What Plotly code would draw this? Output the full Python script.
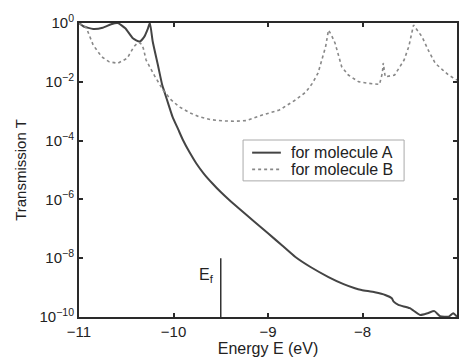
import plotly.graph_objects as go

# Molecule A (solid) : energy (eV) and log10 transmission
energy_a = [-11.0, -10.95, -10.85, -10.75, -10.66, -10.59, -10.51, -10.43, -10.36, -10.31, -10.27, -10.25,
            -10.22, -10.165, -10.12, -10.095, -10.05, -10.01, -9.95, -9.90, -9.83, -9.76, -9.68, -9.59,
            -9.50, -9.41, -9.31, -9.15, -9.0, -8.85, -8.71, -8.55, -8.36, -8.2, -8.08, -8.01, -7.87,
            -7.76, -7.69, -7.67, -7.62, -7.50, -7.39, -7.31, -7.24, -7.18, -7.09, -7.04, -7.0]
logT_a = [0.0, -0.12, -0.2, -0.16, -0.04, 0.0, -0.18, -0.52, -0.63, -0.47, -0.18, 0.0,
          -0.63, -1.43, -2.1, -2.35, -2.8, -3.19, -3.62, -3.98, -4.4, -4.77, -5.12, -5.45,
          -5.75, -6.02, -6.30, -6.74, -7.15, -7.57, -7.96, -8.3, -8.64, -8.88, -9.02, -9.08, -9.16,
          -9.25, -9.36, -9.48, -9.59, -9.7, -9.93, -9.87, -9.8, -9.97, -9.99, -9.87, -9.99]

# Molecule B (dotted)
energy_b = [-11.0, -10.95, -10.92, -10.85, -10.76, -10.68, -10.59, -10.49, -10.42, -10.38, -10.35, -10.32,
            -10.29, -10.2, -10.11, -10.03, -9.94, -9.83, -9.73, -9.6, -9.48, -9.35, -9.23, -9.06,
            -8.88, -8.71, -8.6, -8.53, -8.47, -8.43, -8.39, -8.36, -8.33, -8.29, -8.22, -8.15, -8.04,
            -7.94, -7.82, -7.79, -7.78, -7.76, -7.72, -7.66, -7.56, -7.51, -7.46, -7.42, -7.37, -7.3,
            -7.23, -7.15, -7.09, -7.0]
logT_b = [-0.02, -0.08, -0.18, -0.75, -1.15, -1.32, -1.37, -1.2, -0.81, -0.68, -0.68, -0.85,
          -1.26, -1.8, -2.28, -2.6, -2.85, -3.05, -3.19, -3.29, -3.33, -3.34, -3.32, -3.13,
          -2.96, -2.62, -2.35, -2.05, -1.7, -1.26, -0.8, -0.24, -0.4, -0.69, -1.49, -1.77, -2.0,
          -2.05, -2.09, -1.7, -1.36, -1.83, -1.8, -1.77, -1.26, -0.8, -0.07, -0.25, -0.47, -0.95,
          -1.37, -1.6, -1.77, -1.94]

# Fermi level marker
fermi_energy = -9.5
fermi_logT = [-10, -8]

series_names = ["for molecule A", "for molecule B"]
series_colors = ["#444444", "#888888"]
series_dash = ["solid", "dot"]
series_width = [2, 1.6]

y_tickvals = [0, -2, -4, -6, -8, -10]
y_ticktext = ["10<sup>0</sup>", "10<sup>−2</sup>", "10<sup>−4</sup>", "10<sup>−6</sup>",
              "10<sup>−8</sup>", "10<sup>−10</sup>"]
x_tickvals = [-11, -10, -9, -8, -7]
x_ticktext = ["−11", "−10", "−9", "−8", "−7"]

T_a = [10 ** v for v in logT_a]
T_b = [10 ** v for v in logT_b]
T_f = [10 ** v for v in fermi_logT]

FONT = "Liberation Sans, Arial, Helvetica, sans-serif"
AX = "#2a2a2a"

fig = go.Figure()
fig.add_trace(go.Scatter(x=energy_a, y=T_a, mode="lines", name=series_names[0], showlegend=False,
                         line=dict(color=series_colors[0], width=series_width[0],
                                   shape="spline", smoothing=0.5)))
fig.add_trace(go.Scatter(x=energy_b, y=T_b, mode="lines", name=series_names[1], showlegend=False,
                         line=dict(color=series_colors[1], width=series_width[1], dash=series_dash[1])))
fig.add_trace(go.Scatter(x=[fermi_energy, fermi_energy], y=T_f, mode="lines", showlegend=False,
                         line=dict(color="#333333", width=1.5)))

fig.add_annotation(x=fermi_energy, y=-8.6, xref="x", yref="y", text="E<sub>f</sub>",
                   showarrow=False, xanchor="right", xshift=-5,
                   font=dict(family=FONT, size=16, color="#222222"))

# Legend box drawn in paper coordinates (plot area: x 79..459 px, y 23..317 px)
fig.add_shape(type="rect", xref="paper", yref="paper", x0=0.434, x1=0.860, y0=0.463, y1=0.602,
              line=dict(color="#aaaaaa", width=1), fillcolor="white", layer="above")
legend_rows_y = [0.559, 0.502]
for name, color, dash, width, ly in zip(series_names, series_colors, series_dash, series_width, legend_rows_y):
    fig.add_shape(type="line", xref="paper", yref="paper", x0=0.458, x1=0.534, y0=ly, y1=ly,
                  line=dict(color=color, width=width, dash=dash), layer="above")
    fig.add_annotation(x=0.555, y=ly, xref="paper", yref="paper", text=name, showarrow=False,
                       xanchor="left", yanchor="middle",
                       font=dict(family=FONT, size=16, color="#222222"))

fig.update_layout(
    width=461, height=360,
    margin=dict(l=79, r=2, t=23, b=43),
    paper_bgcolor="white", plot_bgcolor="white",
    font=dict(family=FONT, size=15, color="#222222"),
    showlegend=False,
)
fig.update_xaxes(range=[-11, -7], tickvals=x_tickvals, ticktext=x_ticktext,
                 showgrid=False, zeroline=False, showline=True, linecolor=AX, linewidth=2,
                 mirror="ticks", ticks="inside", ticklen=4, tickcolor=AX, tickwidth=1.5,
                 title=dict(text="Energy E (eV)", standoff=4, font=dict(size=16)),
                 tickfont=dict(size=15))
fig.update_yaxes(type="log", range=[-10, 0], tickvals=[10 ** v for v in y_tickvals], ticktext=y_ticktext,
                 showgrid=False, zeroline=False, showline=True, linecolor=AX, linewidth=2,
                 mirror="ticks", ticks="inside", ticklen=4, tickcolor=AX, tickwidth=1.5,
                 title=dict(text="Transmission T", standoff=9, font=dict(size=15)),
                 tickfont=dict(size=15))

fig.write_html("out.html")
